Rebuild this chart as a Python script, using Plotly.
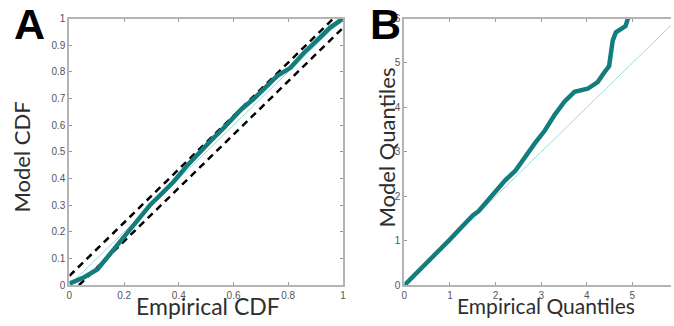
import plotly.graph_objects as go

# Panel A: CDF comparison
cdf_emp = [0.0, 0.054, 0.103, 0.151, 0.199, 0.248, 0.296, 0.344, 0.380, 0.429, 0.471, 0.518, 0.566,
           0.627, 0.675, 0.724, 0.760, 0.808, 0.856, 0.905, 0.953, 0.995, 1.0]
cdf_model = [0.006, 0.030, 0.060, 0.121, 0.181, 0.242, 0.302, 0.350, 0.387, 0.447, 0.495, 0.543, 0.592,
             0.658, 0.700, 0.749, 0.785, 0.815, 0.870, 0.918, 0.966, 0.996, 1.0]
band = 0.035
diag_a = [0.0, 1.0]

# Panel B: QQ plot
q_emp = [0.0, 0.62, 0.98, 1.34, 1.50, 1.63, 1.99, 2.21, 2.43, 2.65, 2.86, 3.08, 3.30, 3.51, 3.73, 4.02,
         4.24, 4.38, 4.49, 4.57, 4.64, 4.85, 4.91]
q_model = [0.0, 0.63, 1.01, 1.40, 1.57, 1.67, 2.10, 2.36, 2.57, 2.90, 3.19, 3.48, 3.84, 4.13, 4.35, 4.42,
           4.57, 4.78, 4.93, 5.51, 5.69, 5.83, 6.02]
diag_b = [0.0, 6.0]

W, H = 674, 326
teal = "#137c7c"
light = "#9edbd7"

fig = go.Figure()
# A
fig.add_trace(go.Scatter(x=diag_a, y=diag_a, mode="lines", line=dict(color=light, width=1), xaxis="x", yaxis="y"))
fig.add_trace(go.Scatter(x=[0, 1 - band], y=[band, 1], mode="lines",
                         line=dict(color="black", width=2.5, dash="7px,5px"), xaxis="x", yaxis="y"))
fig.add_trace(go.Scatter(x=[band, 1], y=[0, 1 - band], mode="lines",
                         line=dict(color="black", width=2.5, dash="7px,5px"), xaxis="x", yaxis="y"))
fig.add_trace(go.Scatter(x=cdf_emp, y=cdf_model, mode="lines", line=dict(color=teal, width=4.5),
                         xaxis="x", yaxis="y"))
# B
fig.add_trace(go.Scatter(x=diag_b, y=diag_b, mode="lines", line=dict(color=light, width=1), xaxis="x2", yaxis="y2"))
fig.add_trace(go.Scatter(x=q_emp, y=q_model, mode="lines", line=dict(color=teal, width=4.5), xaxis="x2", yaxis="y2"))

ax = dict(showgrid=False, zeroline=False, showline=True, linecolor="#b4b4b4", linewidth=2,
          ticks="inside", ticklen=3, tickcolor="#999999",
          tickfont=dict(family="Liberation Sans", size=10, color="#555555"))

ya0, ya1 = (H - 290) / H, (H - 14) / H
fig.update_layout(
    width=W, height=H, margin=dict(l=0, r=0, t=0, b=0),
    plot_bgcolor="white", paper_bgcolor="white", showlegend=False,
    xaxis=dict(ax, domain=[67 / W, 343 / W], range=[0, 1], tickvals=[0, 0.2, 0.4, 0.6, 0.8, 1],
               ticktext=["0", "0.2", "0.4", "0.6", "0.8", "1"], mirror="ticks", anchor="y"),
    yaxis=dict(ax, domain=[ya0, ya1], range=[0, 1], tickvals=[i / 10 for i in range(11)],
               ticktext=["0"] + ["0.%d" % i for i in range(1, 10)] + ["1"], mirror="ticks", anchor="x"),
    xaxis2=dict(ax, domain=[405 / W, 1.0], range=[0, (W - 405) / 46.0], tickvals=[0, 1, 2, 3, 4, 5],
                mirror="ticks", anchor="y2"),
    yaxis2=dict(ax, domain=[ya0, ya1], range=[0, 6], tickvals=[0, 1, 2, 3, 4, 5, 6], mirror=False, anchor="x2"),
)


def add_title(text, x, y, size, angle=0):
    fig.add_annotation(text=text, x=x / W, y=(H - y) / H, xref="paper", yref="paper", showarrow=False,
                       font=dict(family="Lato", size=size, color="#2e2e2e"), textangle=angle,
                       xanchor="center", yanchor="middle")


add_title("Empirical CDF", 207, 311, 23)
add_title("Empirical Quantiles", 548, 311, 21)
add_title("Model CDF", 19, 157, 22, -90)
add_title("Model Quantiles", 386, 148, 22, -90)

letter_font = dict(family="Liberation Sans", size=43, color="black", weight=900)
fig.add_annotation(text="<b>A</b>", x=27 / W, y=(H - 20) / H, xref="paper", yref="paper", showarrow=False,
                   font=letter_font, xanchor="center", yanchor="middle")
fig.add_annotation(text="<b>B</b>", x=386 / W, y=(H - 20) / H, xref="paper", yref="paper", showarrow=False,
                   font=letter_font, xanchor="center", yanchor="middle")

fig.write_html("out.html")
